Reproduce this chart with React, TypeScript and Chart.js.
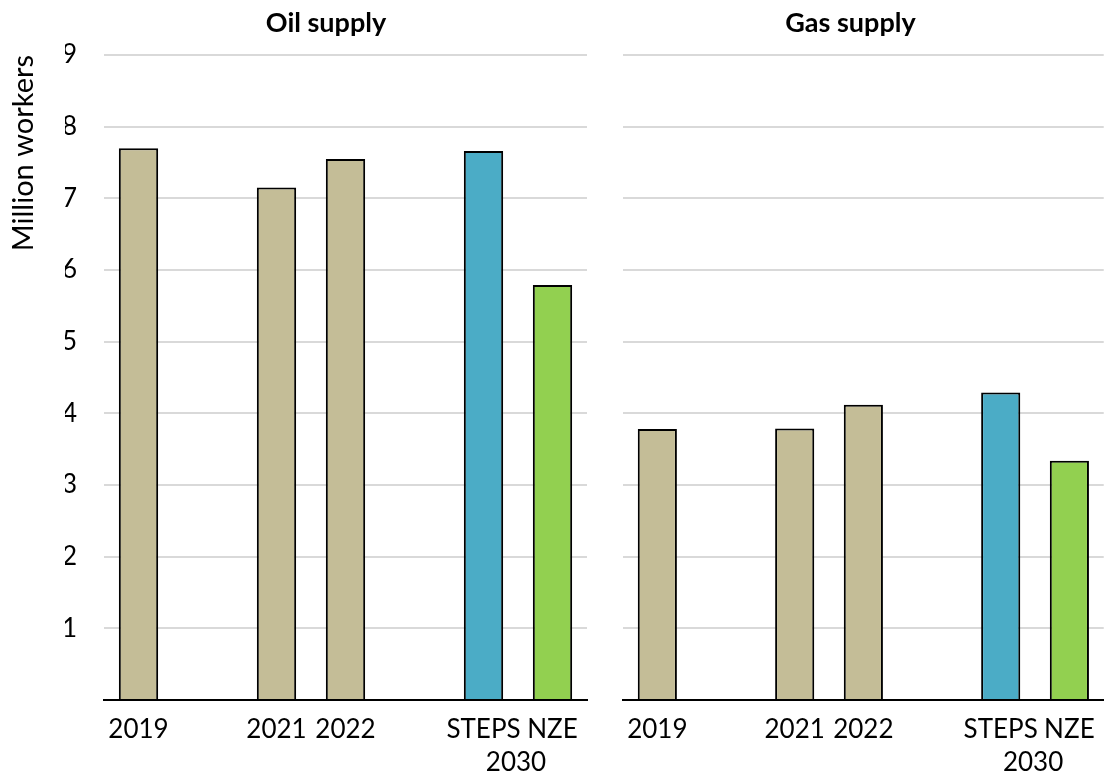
import React, { useEffect, useRef } from "react";
import { Chart, registerables } from "chart.js";

Chart.register(...registerables);

// ---- data ----
const categories: string[] = ["2019", "", "2021", "2022", "", "STEPS", "NZE"];
const oilValues: (number | null)[] = [7.7, null, 7.15, 7.55, null, 7.66, 5.79];
const gasValues: (number | null)[] = [3.78, null, 3.79, 4.12, null, 4.29, 3.34];
const barColors: string[] = ["#C4BD97", "#C4BD97", "#C4BD97", "#C4BD97", "#C4BD97", "#4BACC6", "#92D050"];
const groupLabel = "2030";
const groupIndices: number[] = [5, 6];
const yMin = 0;
const yMax = 9;
const yStep = 1;
const yTitle = "Million workers";
const oilTitle = "Oil supply";
const gasTitle = "Gas supply";

const FONT = "Lato";
const TICK_SIZE = 26;
const TICK_PAD = 14;
const LINE_GAP = 32.6;
const YTITLE_SIZE = 29;

const groupLabelPlugin = {
  id: "groupLabel",
  afterDraw(chart: any) {
    const x = chart.scales.x;
    const px = (x.getPixelForValue(groupIndices[0]) + x.getPixelForValue(groupIndices[1])) / 2;
    const ctx = chart.ctx;
    ctx.save();
    ctx.font = `${TICK_SIZE}px ${FONT}`;
    ctx.fillStyle = "#000";
    ctx.textAlign = "center";
    ctx.textBaseline = "middle";
    ctx.fillText(groupLabel, px - 2, x.top + TICK_PAD + (TICK_SIZE * 1.2) / 2 + LINE_GAP);
    ctx.restore();
  },
};

type PanelProps = {
  title: string;
  values: (number | null)[];
  showY: boolean;
  left: number;
  width: number;
  padLeft: number;
  padRight: number;
  yWidth: number;
};

function Panel({ title, values, showY, left, width, padLeft, padRight, yWidth }: PanelProps) {
  const ref = useRef<HTMLCanvasElement>(null);
  useEffect(() => {
    const chart = new Chart(ref.current as HTMLCanvasElement, {
      type: "bar",
      data: {
        labels: categories,
        datasets: [
          {
            data: values as any,
            backgroundColor: barColors,
            borderColor: "#000",
            borderWidth: 2,
            barPercentage: 0.57,
            categoryPercentage: 1.0,
          },
        ],
      },
      plugins: [groupLabelPlugin],
      options: {
        responsive: false,
        animation: false,
        devicePixelRatio: 1,
        layout: { padding: { left: padLeft, right: padRight, top: 0, bottom: 0 } },
        plugins: {
          legend: { display: false },
          tooltip: { enabled: false },
          title: {
            display: true,
            text: title,
            color: "#000",
            font: { family: FONT, size: 27, weight: "bold" },
            padding: { top: 6.8, bottom: 15.8 },
          },
        },
        scales: {
          x: {
            grid: { display: false, drawTicks: false },
            border: { display: true, color: "#000", width: 2 },
            ticks: {
              color: "#000",
              font: { family: FONT, size: TICK_SIZE },
              padding: TICK_PAD,
              maxRotation: 0,
              autoSkip: false,
            },
            afterFit: (s: any) => {
              s.height = 74;
            },
          },
          y: {
            min: yMin,
            max: yMax,
            ticks: {
              stepSize: yStep,
              display: showY,
              padding: 27,
              color: "#000",
              font: { family: FONT, size: TICK_SIZE },
              callback: (v: any) => (v === 0 ? "" : String(v)),
            },
            grid: {
              color: (c: any) => (c.tick && c.tick.value === 0 ? "rgba(0,0,0,0)" : "#d9d9d9"),
              lineWidth: 2,
              drawTicks: false,
            },
            border: { display: false },
            title: {
              display: showY,
              text: yTitle,
              align: "end",
              color: "#000",
              font: { family: FONT, size: YTITLE_SIZE },
              padding: { top: -(padLeft + (YTITLE_SIZE * 1.2) / 2 - 24), bottom: 0 },
            },
            afterFit: (s: any) => {
              s.width = yWidth;
            },
          },
        },
      } as any,
    });
    return () => chart.destroy();
  }, []);
  return (
    <canvas
      ref={ref}
      width={width}
      height={774}
      style={{ position: "absolute", left, top: 0, width, height: 774 }}
    />
  );
}

export default function App() {
  return (
    <div style={{ position: "absolute", left: 0, top: 0, width: 1109, height: 774, background: "#fff" }}>
      <Panel title={oilTitle} values={oilValues} showY={true} left={0} width={652} padLeft={65} padRight={65} yWidth={39} />
      <Panel title={gasTitle} values={gasValues} showY={false} left={597} width={512} padLeft={0} padRight={5} yWidth={26} />
    </div>
  );
}
